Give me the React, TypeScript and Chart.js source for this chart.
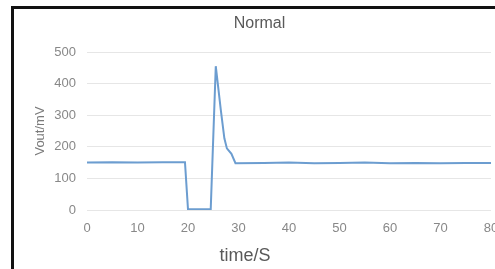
import React, { useEffect, useRef } from "react";
import { Chart, registerables } from "chart.js";

Chart.register(...registerables);

const titleText = "Normal";
const xTitle = "time/S";
const yTitle = "Vout/mV";
const times = [0, 5, 10, 15, 19.4, 20, 24.5, 25.5, 26.5, 27.2, 27.7, 28.6, 29.4, 35, 40, 45, 50, 55, 60, 65, 70, 75, 80];
const values = [150, 151, 150, 151, 151, 2, 2, 455, 316, 227, 195, 178, 148, 149, 150, 148, 149, 150, 148, 149, 148, 149, 149];
const xMin = 0;
const xMax = 80;
const xStep = 10;
const yMin = 0;
const yMax = 500;
const yStep = 100;

const FONT = "'Liberation Sans', Arial, sans-serif";

const xTitlePlugin = {
  id: "xTitlePlugin",
  afterDraw(chart: any) {
    const { ctx, chartArea } = chart;
    ctx.save();
    ctx.font = `18px ${FONT}`;
    ctx.fillStyle = "#595959";
    ctx.textAlign = "center";
    ctx.textBaseline = "middle";
    const x = chartArea.left + (chartArea.right - chartArea.left) * 0.391;
    const y = chartArea.bottom + 46;
    ctx.fillText(xTitle, x, y);
    ctx.restore();
  },
};

export default function App() {
  const ref = useRef<HTMLCanvasElement | null>(null);

  useEffect(() => {
    if (!ref.current) return;
    const chart = new Chart(ref.current, {
      type: "line",
      data: {
        datasets: [
          {
            data: times.map((t, i) => ({ x: t, y: values[i] })),
            borderColor: "#6c9dd0",
            borderWidth: 2,
            pointRadius: 0,
            tension: 0,
            fill: false,
          },
        ],
      },
      plugins: [xTitlePlugin],
      options: {
        animation: false,
        responsive: false,
        maintainAspectRatio: false,
        layout: { padding: { left: 14, right: 33, top: 0, bottom: 0 } },
        plugins: {
          legend: { display: false },
          tooltip: { enabled: false },
          title: {
            display: true,
            text: titleText,
            color: "#595959",
            font: { family: FONT, size: 16, weight: "normal" },
            padding: { top: 5.4, bottom: 18.4 },
          },
        },
        scales: {
          x: {
            type: "linear",
            min: xMin,
            max: xMax,
            grid: { display: false, drawTicks: false },
            border: { display: false },
            ticks: {
              stepSize: xStep,
              color: "#888888",
              font: { family: FONT, size: 13 },
              padding: 11,
              maxRotation: 0,
            },
            afterFit: (s: any) => {
              s.height = 59;
            },
          },
          y: {
            min: yMin,
            max: yMax,
            grid: { color: "#e6e6e6", drawTicks: false, lineWidth: 1 },
            border: { display: false },
            ticks: {
              stepSize: yStep,
              color: "#888888",
              font: { family: FONT, size: 13 },
              padding: 11,
            },
            title: {
              display: true,
              text: yTitle,
              color: "#7a7a7a",
              font: { family: FONT, size: 13 },
              padding: { top: 5, bottom: 0 },
            },
            afterFit: (s: any) => {
              s.width = 59;
            },
          },
        },
      },
    });
    return () => chart.destroy();
  }, []);

  return (
    <div
      style={{
        position: "fixed",
        left: 0,
        top: 0,
        width: 495,
        height: 269,
        overflow: "hidden",
        background: "#ffffff",
      }}
    >
      <div
        style={{
          position: "absolute",
          left: 11,
          top: 6,
          width: 600,
          height: 400,
          borderLeft: "3px solid #111",
          borderTop: "3px solid #111",
          boxSizing: "border-box",
        }}
      />
      <canvas
        ref={ref}
        width={510}
        height={260}
        style={{ position: "absolute", left: 14, top: 9, width: 510, height: 260 }}
      />
    </div>
  );
}
